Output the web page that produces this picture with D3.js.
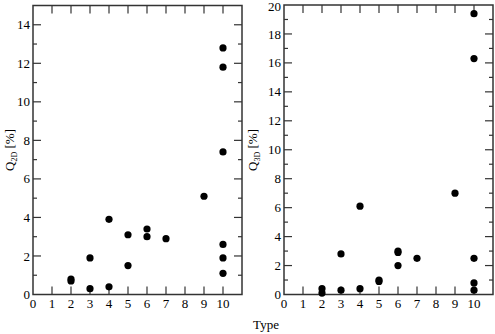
<!DOCTYPE html>
<html><head><meta charset="utf-8">
<script src="https://cdn.jsdelivr.net/npm/d3@7"></script>
<style>body{margin:0;background:#fff}svg{display:block}text{font-family:"Liberation Serif","DejaVu Serif",serif;}</style>
</head><body>
<svg id="c" width="495" height="334"></svg>
<script>
// Left panel: Q2D [%] by type
const typesQ2D = [2, 2, 3, 3, 4, 4, 5, 5, 6, 6, 7, 9, 10, 10, 10, 10, 10, 10];
const valuesQ2D = [0.8, 0.7, 1.9, 0.3, 3.9, 0.4, 3.1, 1.5, 3.4, 3.0, 2.9, 5.1, 12.8, 11.8, 7.4, 2.6, 1.9, 1.1];
// Right panel: Q3D [%] by type
const typesQ3D = [2, 2, 3, 3, 4, 4, 5, 5, 6, 6, 6, 7, 9, 10, 10, 10, 10, 10];
const valuesQ3D = [0.4, 0.1, 2.8, 0.3, 6.1, 0.4, 1.0, 0.9, 3.0, 2.9, 2.0, 2.5, 7.0, 19.4, 16.3, 2.5, 0.8, 0.3];
const xTickLabels = [0,1,2,3,4,5,6,7,8,9,10];
const yTicksQ2D = [0,2,4,6,8,10,12,14];
const yTicksQ3D = [0,2,4,6,8,10,12,14,16,18,20];

const svg = d3.select("#c");

function panel(opt){
  const x = d3.scaleLinear().domain([0,11]).range([opt.x0, opt.x1]);
  const y = d3.scaleLinear().domain([0,opt.ymax]).range([opt.y0, opt.y1]);
  const g = svg.append("g");
  const col = "#333";
  const xt = d3.range(0, 12, 1);
  xt.forEach(t=>{
    if (t>0 && t<11){
      g.append("line").attr("x1",x(t)).attr("x2",x(t)).attr("y1",opt.y0).attr("y2",opt.y0-8).attr("stroke",col).attr("stroke-width",1.2);
      g.append("line").attr("x1",x(t)).attr("x2",x(t)).attr("y1",opt.y1).attr("y2",opt.y1+8).attr("stroke",col).attr("stroke-width",1.2);
    }
  });
  xTickLabels.forEach(t=>{
    g.append("text").attr("x",x(t)).attr("y",opt.y0+13).attr("text-anchor","middle")
      .attr("font-size",13).attr("fill","#000").text(t);
  });
  const ym = d3.range(0, opt.ymax+0.001, 1);
  ym.forEach(t=>{
    if (t<=0 || t>=opt.ymax) return;
    const len = (t%2===0)?8:4;
    g.append("line").attr("x1",opt.x0).attr("x2",opt.x0+len).attr("y1",y(t)).attr("y2",y(t)).attr("stroke",col).attr("stroke-width",1.2);
    g.append("line").attr("x1",opt.x1).attr("x2",opt.x1-len).attr("y1",y(t)).attr("y2",y(t)).attr("stroke",col).attr("stroke-width",1.2);
  });
  opt.yTicks.forEach(t=>{
    const yy = Math.max(y(t), 6);
    g.append("text").attr("x",opt.x0-3).attr("y",yy).attr("dy","0.35em").attr("text-anchor","end")
      .attr("font-size",13).attr("fill","#000").text(t);
  });
  g.append("rect").attr("x",opt.x0).attr("y",opt.y1).attr("width",opt.x1-opt.x0).attr("height",opt.y0-opt.y1)
    .attr("fill","none").attr("stroke",col).attr("stroke-width",1.5);
  g.selectAll("circle.p").data(opt.types.map((t,i)=>[t,opt.values[i]])).enter().append("circle")
    .attr("cx",d=>x(d[0])).attr("cy",d=>y(d[1])).attr("r",3.6).attr("fill","#000");
  const lab = g.append("text").attr("transform",`translate(${opt.lx},${opt.ly}) rotate(-90)`)
    .attr("text-anchor","middle").attr("font-size",13).attr("fill","#000");
  lab.append("tspan").text("Q");
  lab.append("tspan").attr("font-size",8).attr("dy",3).text(opt.sub);
  lab.append("tspan").attr("dy",-3).text(" [%]");
}

panel({x0:33, x1:242, y0:294.5, y1:5.5, ymax:15, yTicks:yTicksQ2D, types:typesQ2D, values:valuesQ2D, sub:"2D", lx:14, ly:150});
panel({x0:284, x1:493, y0:294.5, y1:5, ymax:20, yTicks:yTicksQ3D, types:typesQ3D, values:valuesQ3D, sub:"3D", lx:257, ly:150});

svg.append("text").attr("x",266).attr("y",329).attr("text-anchor","middle")
  .attr("font-size",13).attr("fill","#000").text("Type");
</script>
</body></html>
